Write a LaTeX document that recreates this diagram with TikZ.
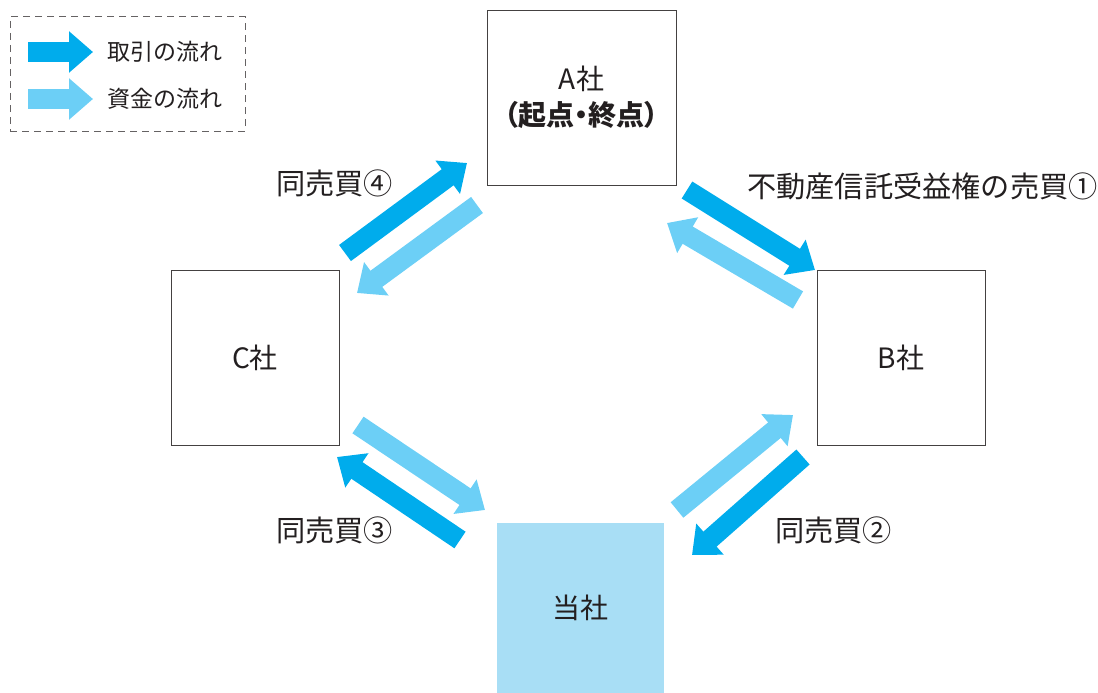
\documentclass[tikz,border=0pt]{standalone}
\usepackage{fontspec}
\setmainfont{Noto Sans CJK JP}
\newfontfamily\jpp{Noto Sans CJK JP}[RawFeature=+palt]
\usetikzlibrary{arrows.meta}
\definecolor{darkflow}{RGB}{0,172,236}
\definecolor{lightflow}{RGB}{108,207,246}
\definecolor{ownfill}{RGB}{168,222,245}
\definecolor{txt}{RGB}{35,31,32}
\tikzset{
  box/.style={draw=txt!85, line width=0.9pt, fill=white, text=txt, font=\fontsize{28}{34}\selectfont, align=center, inner sep=0pt},
  ownbox/.style={fill=ownfill, text=txt, font=\fontsize{28}{34}\selectfont, inner sep=0pt},
  flow/.style={line width=20pt, -{Triangle[length=24pt,width=40pt]}},
  trade/.style={flow, draw=darkflow},
  money/.style={flow, draw=lightflow},
  lbl/.style={anchor=west, text=txt, font=\fontsize{29.2}{34}\selectfont, inner sep=0pt},
  legtxt/.style={anchor=west, text=txt, font=\fontsize{23}{27}\selectfont, inner sep=0pt},
}
\begin{document}
\begin{tikzpicture}[x=1pt,y=-1pt]
\useasboundingbox (0,0) rectangle (1098,693);
% legend
\node[draw=txt!70, dash pattern=on 7pt off 5pt, line width=1pt, minimum width=235pt, minimum height=114pt, inner sep=0pt] (legend) at (127.5,74) {};
\coordinate (l1s) at (28,52); \coordinate (l1e) at (93,52);
\coordinate (l2s) at (28,99); \coordinate (l2e) at (93,99);
\draw[trade] (l1s) -- (l1e);
\draw[money] (l2s) -- (l2e);
\node[legtxt] (lt1) at (107.5,52) {取引の流れ};
\node[legtxt] (lt2) at (107.5,99) {資金の流れ};
% boxes
\node[box, minimum width=189pt, minimum height=175pt] (A) at (581.5,97.5) {A社\\[2pt]{\jpp\bfseries （起点・終点）}};
\node[box, minimum width=168pt, minimum height=175pt] (B) at (901,357.5) {B社};
\node[box, minimum width=168pt, minimum height=175pt] (C) at (255,357.5) {C社};
\node[ownbox, minimum width=167pt, minimum height=170pt] (T) at (580.5,608) {当社};
% arrow ends
\coordinate (a1s) at (687,190); \coordinate (a1e) at (815,270);
\coordinate (a2s) at (798,300); \coordinate (a2e) at (667,223);
\coordinate (a3s) at (345,253); \coordinate (a3e) at (467,163);
\coordinate (a4s) at (477,205); \coordinate (a4e) at (357,293);
\coordinate (a5s) at (358,425); \coordinate (a5e) at (485,510);
\coordinate (a6s) at (460,540); \coordinate (a6e) at (337,457);
\coordinate (a7s) at (677,510); \coordinate (a7e) at (793,415);
\coordinate (a8s) at (803,457); \coordinate (a8e) at (692,555);
\draw[trade] (a1s) -- (a1e);
\draw[money] (a2s) -- (a2e);
\draw[trade] (a3s) -- (a3e);
\draw[money] (a4s) -- (a4e);
\draw[money] (a5s) -- (a5e);
\draw[trade] (a6s) -- (a6e);
\draw[money] (a7s) -- (a7e);
\draw[trade] (a8s) -- (a8e);
% labels
\node[lbl] (L1) at (747,186) {不動産信託受益権の売買①};
\node[lbl] (L4) at (276,183) {同売買④};
\node[lbl] (L3) at (276,530) {同売買③};
\node[lbl] (L2) at (775,530) {同売買②};
\end{tikzpicture}
\end{document}
